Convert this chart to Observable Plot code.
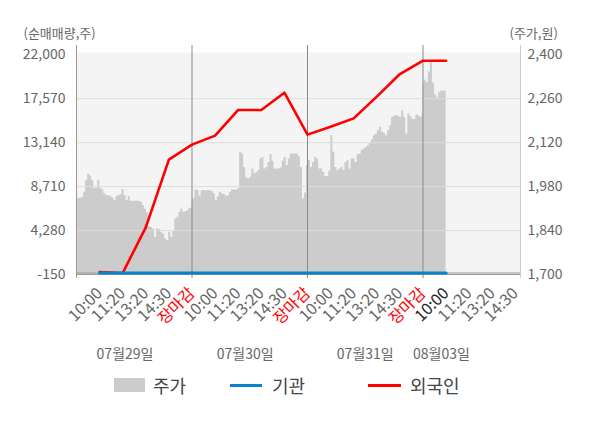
<!DOCTYPE html>
<html><head><meta charset="utf-8">
<script src="https://cdn.jsdelivr.net/npm/d3@7"></script>
<script src="https://cdn.jsdelivr.net/npm/@observablehq/plot@0.6"></script>
<style>
body{margin:0;background:#fff;font-family:"Noto Sans CJK KR","Noto Sans",sans-serif;}
#chart{width:600px;height:370px;}
#legend{position:relative;width:600px;height:58px;color:#444;font-size:18px;}
#legend .sw{position:absolute;}
#legend .tx{position:absolute;top:3px;line-height:24px;}
</style></head><body>
<div id="chart"></div>
<div id="legend">
  <div class="sw" style="left:114px;top:8px;width:31px;height:14px;background:#cccccc"></div>
  <div class="tx" style="left:153px">주가</div>
  <div class="sw" style="left:230px;top:14px;width:32px;height:3px;background:#0a82cc"></div>
  <div class="tx" style="left:272px">기관</div>
  <div class="sw" style="left:368px;top:14px;width:33px;height:3px;background:#ff0000"></div>
  <div class="tx" style="left:410px">외국인</div>
</div>
<script>
// axis ticks
const leftTicks = [-150, 4280, 8710, 13140, 17570, 22000];
const rightTickLabels = ["1,700", "1,840", "1,980", "2,120", "2,260", "2,400"];
const priceMin = 1700, priceMax = 2400;
const timeLabels = ["10:00", "11:20", "13:20", "14:30", "장마감"];
const dayLabels = ["07월29일", "07월30일", "07월31일", "08월03일"];
const dayLabelSlots = [2.1, 7.3, 12.5, 15.8];

// intraday price (주가, 원)
const day1Price = [1938,1941,1944,1944,1962,1999,2019,2013,1999,1975,1975,1999,1975,1970,1957,1951,1951,1949,1944,1935,1949,1951,1954,1970,1951,1935,1949,1933,1933,1933,1933,1933,1930,1920,1909,1897,1853,1850,1845,1819,1845,1843,1835,1829,1814,1808,1835,1819,1840,1877,1882,1898,1909,1898,1900,1904,1911,1911];
const day2Price = [1935,1942,1969,1967,1951,1967,1967,1967,1967,1967,1965,1957,1935,1948,1962,1957,1955,1949,1951,1962,1969,1969,1969,1973,2089,2084,2041,2008,2004,2010,2036,2020,2025,2031,2068,2073,2036,2041,2057,2082,2061,2036,2036,2036,2039,2061,2073,2047,2068,2084,2084,2084,2084,2075,2041,1941,1960,2047];
const day3Price = [2057,2063,2041,2057,2073,2068,2036,2036,2025,2012,2012,2030,2142,2090,2041,2031,2036,2041,2031,2057,2063,2036,2068,2068,2057,2082,2084,2095,2100,2105,2110,2118,2129,2142,2148,2158,2169,2153,2150,2142,2158,2174,2200,2206,2206,2203,2200,2222,2200,2148,2211,2203,2195,2195,2208,2206,2200,2213];
const day4Price = [2301,2320,2312,2345,2375,2310,2272,2262,2280,2285,2285,2285];

// net buying (순매매량, 주) at time slots 1..16
const flowSlots = [1,2,3,4,5,6,7,8,9,10,11,12,13,14,15,16];
const foreignNet = [100,0,4600,11430,12940,13850,16440,16440,18180,13950,14750,15590,17780,20060,21400,21400];
const instNet = [0,0,0,0,0,0,0,0,0,0,0,0,0,0,0,0];

const toLeft = p => leftTicks[0] + (p - priceMin) * (leftTicks[5] - leftTicks[0]) / (priceMax - priceMin);

const priceData = [];
[day1Price, day2Price, day3Price].forEach((arr, d) => {
  arr.forEach((p, i) => priceData.push({slot: 5 * d + i * 5 / (arr.length - 1), v: toLeft(p)}));
});
day4Price.forEach((p, i) => priceData.push({slot: 15 + i / (day4Price.length - 1), v: toLeft(p)}));

const foreign = flowSlots.map((s, i) => ({slot: s, v: foreignNet[i]}));
const inst = flowSlots.map((s, i) => ({slot: s, v: instNet[i]}));

const ticksNormal = [], ticksClose = [], ticksNow = [];
for (let d = 0; d < 3; d++) timeLabels.forEach((t, j) => (t === "장마감" ? ticksClose : ticksNormal).push({slot: 5 * d + j + 1, t}));
timeLabels.slice(0, 4).forEach((t, j) => (j === 0 ? ticksNow : ticksNormal).push({slot: 16 + j, t}));

const xEnd = 19.22;
const font = '"Noto Sans CJK KR","Noto Sans",sans-serif';
const tickText = (data, color) => Plot.text(data, {x: "slot", text: "t", frameAnchor: "bottom", rotate: -45, textAnchor: "end", lineAnchor: "middle", dy: 16, fill: color, fontSize: 16});

const chart = Plot.plot({
  width: 600, height: 370,
  marginLeft: 76, marginRight: 80, marginTop: 52, marginBottom: 96,
  x: {domain: [0, xEnd], axis: null, label: null},
  y: {domain: [-150, 22230], axis: null, label: null},
  style: {fontFamily: font, fontSize: "14px", background: "transparent", overflow: "visible"},
  marks: [
    Plot.frame({fill: "#f4f4f4", stroke: null}),
    Plot.areaY(priceData, {x: "slot", y1: -150, y2: "v", fill: "#cccccc", curve: "step"}),
    Plot.ruleY([4280, 8710, 13140, 17570], {stroke: "#dddddd"}),
    Plot.ruleY([0, -150], {stroke: "#999999"}),
    Plot.ruleX([5, 10, 15], {stroke: "#888888", insetTop: -7, insetBottom: -4}),
    Plot.ruleX([0], {stroke: "#999999", insetTop: -7, insetBottom: -4}),
    Plot.ruleX([xEnd], {stroke: "#cccccc", insetTop: -7, insetBottom: -4}),
    Plot.line(foreign, {x: "slot", y: "v", stroke: "#ff0000", strokeWidth: 2.6}),
    Plot.line(inst, {x: "slot", y: "v", stroke: "#0a82cc", strokeWidth: 3}),
    Plot.axisY(leftTicks, {anchor: "left", label: null, tickSize: 0, tickPadding: 11, fill: "#666", fontSize: 14, tickFormat: d => d.toLocaleString("en-US")}),
    Plot.axisY(leftTicks, {anchor: "right", label: null, tickSize: 0, tickPadding: 7, fill: "#666", fontSize: 14, tickFormat: d => rightTickLabels[leftTicks.indexOf(d)]}),
    tickText(ticksNormal, "#666"),
    tickText(ticksClose, "#ff0000"),
    tickText(ticksNow, "#222"),
    Plot.text(dayLabels, {x: dayLabelSlots, frameAnchor: "bottom", lineAnchor: "middle", dy: 80, fill: "#666", fontSize: 14}),
    Plot.text(["(순매매량,주)"], {frameAnchor: "top-left", textAnchor: "start", lineAnchor: "middle", dx: -53, dy: -19, fill: "#666", fontSize: 13}),
    Plot.text(["(주가,원)"], {frameAnchor: "top-right", textAnchor: "start", lineAnchor: "middle", dx: -11, dy: -19, fill: "#666", fontSize: 13})
  ]
});
document.getElementById("chart").appendChild(chart);
</script>
</body></html>
